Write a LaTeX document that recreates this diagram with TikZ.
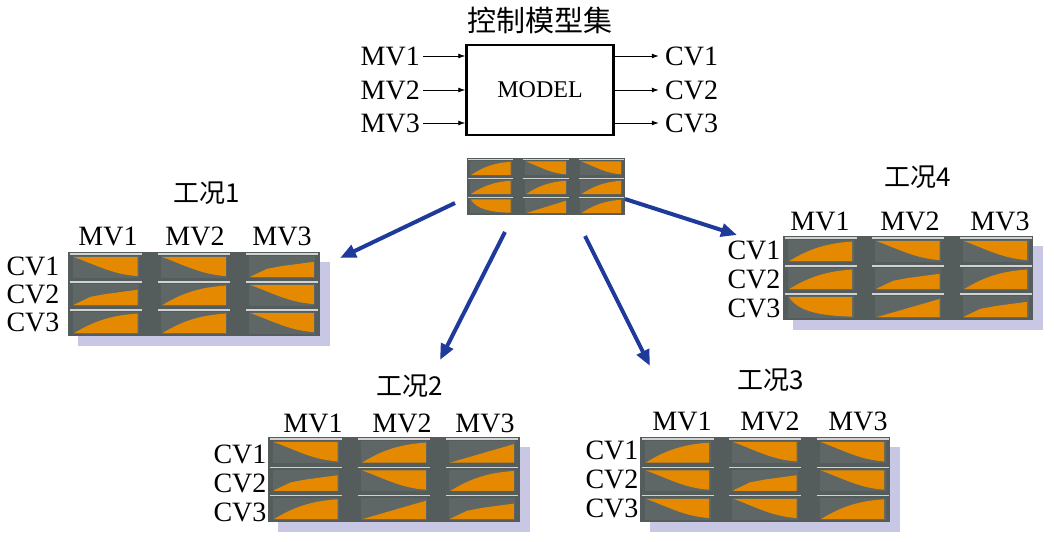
\documentclass[tikz,border=0pt]{standalone}
\usepackage{fontspec}
\setmainfont{Liberation Serif}
\newfontfamily\cjk{Noto Sans CJK SC}
\usetikzlibrary{arrows.meta}
\definecolor{panelgrey}{HTML}{545C5C}
\definecolor{cellgrey}{HTML}{5E6666}
\definecolor{curveorange}{HTML}{E58A00}
\definecolor{shadowblue}{HTML}{C8C8E4}
\definecolor{arrowblue}{HTML}{1E3A9A}
\tikzset{
  lbl/.style={inner sep=0pt,font=\fontsize{28}{30}\selectfont},
  ttl/.style={inner sep=0pt,font=\cjk\fontsize{26}{28}\selectfont},
  io/.style={-{Latex[length=7pt,width=5pt]},line width=0.8pt},
  blue arrow/.style={-{Triangle[length=16pt,width=13pt]},arrowblue,line width=4pt},
}
% one cell of a panel, unit square, y downwards
\newcommand\cellcurve[1]{%
  \fill[panelgrey] (0,0) rectangle (1,1);
  \draw[gray!35,line width=1.2pt] (0.02,0.07) -- (0.98,0.07);
  \fill[cellgrey] (0.06,0.15) rectangle (0.94,0.92);
  \ifx r#1\fill[curveorange] (0.08,0.9) .. controls (0.35,0.45) and (0.6,0.25) .. (0.92,0.2) -- (0.92,0.9) -- cycle;\fi
  \ifx l#1\fill[curveorange] (0.08,0.9) -- (0.92,0.25) -- (0.92,0.9) -- cycle;\fi
  \ifx n#1\fill[curveorange] (0.08,0.88) -- (0.3,0.6) -- (0.5,0.5) -- (0.92,0.35) -- (0.92,0.9) -- (0.08,0.9) -- cycle;\fi
  \ifx f#1\fill[curveorange] (0.08,0.18) .. controls (0.4,0.5) and (0.6,0.8) .. (0.92,0.86) -- (0.92,0.18) -- cycle;\fi
  \ifx b#1\fill[curveorange] (0.08,0.18) .. controls (0.2,0.7) and (0.5,0.85) .. (0.92,0.88) -- (0.92,0.18) -- cycle;\fi
}
% panel: x, y, width, height, nine cell types row by row, shadow offset
\newcommand\modelpanel[6]{%
  \fill[shadowblue] (#1+#6,#2+#6) rectangle (#1+#3+#6,#2+#4+#6);
  \fill[panelgrey] (#1,#2) rectangle (#1+#3,#2+#4);
  \foreach \t [count=\i from 0] in {#5} {
    \pgfmathsetmacro\cc{mod(\i,3)}
    \pgfmathsetmacro\rr{int(\i/3)}
    \pgfmathsetmacro\cw{(#3-2*0.05*#3)/3}
    \begin{scope}[shift={(#1+\cc*\cw+\cc*0.05*#3,#2+\rr*#4/3)},x=\cw pt,y=-#4/3 pt]
      \expandafter\cellcurve\expandafter{\t}
    \end{scope}
  }
}
\begin{document}
\begin{tikzpicture}[x=1pt,y=-1pt]
\useasboundingbox (0,0) rectangle (1054,541);
% model box
\node[ttl,font=\cjk\fontsize{29}{31}\selectfont] (title) at (540,20) {控制模型集};
\node[draw,line width=2.5pt,minimum width=147pt,minimum height=90pt,inner sep=0pt,font=\fontsize{24}{26}\selectfont] (model) at (540,90) {MODEL};
\foreach \k/\y in {1/56,2/90,3/123} {
  \node[lbl,anchor=east] (mv\k) at (420,\y) {MV\k};
  \node[lbl,anchor=west] (cv\k) at (665,\y) {CV\k};
  \draw[io] (mv\k.east) ++(3pt,0) coordinate (mvs\k) -- (mvs\k -| model.west);
  \draw[io] (cv\k.west -| model.east) -- ++(44pt,0) coordinate (cve\k);
}
% small panel under the box
\modelpanel{467}{158}{158}{57}{r,f,f,r,r,r,b,l,r}{0}
% operating cases
\modelpanel{68}{252}{252}{84}{f,f,n,n,r,f,r,r,f}{10}
\modelpanel{783}{236}{250}{84}{r,f,f,r,n,r,b,l,n}{10}
\modelpanel{268}{437}{252}{85}{f,r,l,n,f,r,r,l,n}{10}
\modelpanel{640}{437}{250}{85}{r,f,f,f,n,f,f,f,r}{10}
% labels
\node[ttl] (case1) at (207,193) {工况1};
\node[ttl] (case4) at (918,177) {工况4};
\node[ttl] (case2) at (410,386) {工况2};
\node[ttl] (case3) at (771,380) {工况3};
\foreach \x [count=\k] in {108,195,282} \node[lbl] (aM\k) at (\x,236) {MV\k};
\foreach \y [count=\k] in {266,294,322} \node[lbl] (aC\k) at (33,\y) {CV\k};
\foreach \x [count=\k] in {820,910,1000} \node[lbl] (dM\k) at (\x,221) {MV\k};
\foreach \y [count=\k] in {250,279,308} \node[lbl] (dC\k) at (754,\y) {CV\k};
\foreach \x [count=\k] in {313,402,485} \node[lbl] (bM\k) at (\x,423) {MV\k};
\foreach \y [count=\k] in {454,483,512} \node[lbl] (bC\k) at (240,\y) {CV\k};
\foreach \x [count=\k] in {682,770,858} \node[lbl] (cM\k) at (\x,421) {MV\k};
\foreach \y [count=\k] in {450,479,508} \node[lbl] (cC\k) at (612,\y) {CV\k};
% blue arrows
\coordinate (s1) at (455,203); \coordinate (e1) at (340,258);
\coordinate (s2) at (505,232); \coordinate (e2) at (440,360);
\coordinate (s3) at (585,236); \coordinate (e3) at (650,366);
\coordinate (s4) at (625,199); \coordinate (e4) at (737,235);
\foreach \k in {1,...,4} \draw[blue arrow] (s\k) -- (e\k);
\end{tikzpicture}
\end{document}
